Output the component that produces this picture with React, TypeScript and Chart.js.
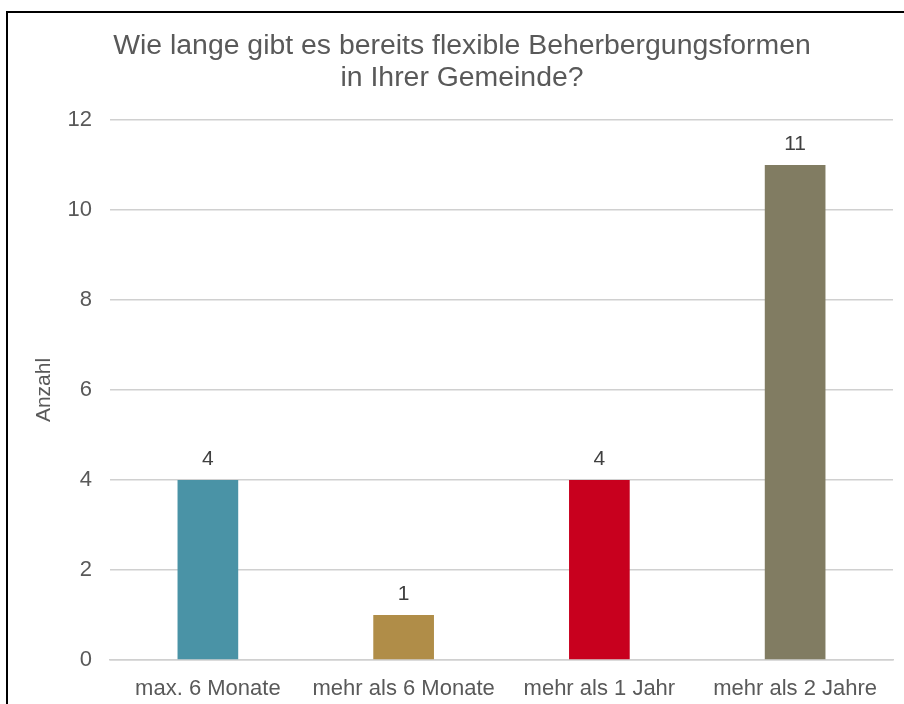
import React, { useEffect, useRef } from "react";
import { Chart, registerables } from "chart.js";

Chart.register(...registerables);

const titleLines = ["Wie lange gibt es bereits flexible Beherbergungsformen", "in Ihrer Gemeinde?"];
const categories = ["max. 6 Monate", "mehr als 6 Monate", "mehr als 1 Jahr", "mehr als 2 Jahre"];
const values = [4, 1, 4, 11];
const barColors = ["#4A93A6", "#B08D48", "#C8001E", "#817C62"];
const yAxisTitle = "Anzahl";

const TEXT = "#595959";
const FONT = "'Liberation Sans', Arial, sans-serif";

const framePlugin = {
  id: "frame",
  beforeDraw(chart: any) {
    const { ctx, width, height } = chart;
    ctx.save();
    ctx.fillStyle = "#ffffff";
    ctx.fillRect(0, 0, width, height);
    ctx.strokeStyle = "#000000";
    ctx.lineWidth = 2;
    ctx.strokeRect(7, 12, width - 14, height);
    ctx.restore();
  },
};

const titlePlugin = {
  id: "customTitle",
  afterDraw(chart: any) {
    const { ctx, width } = chart;
    ctx.save();
    ctx.fillStyle = TEXT;
    ctx.font = `28.4px ${FONT}`;
    ctx.textAlign = "center";
    ctx.textBaseline = "middle";
    titleLines.forEach((line, i) => {
      ctx.fillText(line, width / 2, 46 + i * 32);
    });
    ctx.restore();
  },
};

const labelPlugin = {
  id: "barLabels",
  afterDatasetsDraw(chart: any) {
    const { ctx } = chart;
    const meta = chart.getDatasetMeta(0);
    ctx.save();
    ctx.fillStyle = "#404040";
    ctx.font = `21px ${FONT}`;
    ctx.textAlign = "center";
    ctx.textBaseline = "alphabetic";
    meta.data.forEach((el: any, i: number) => {
      ctx.fillText(String(values[i]), el.x, el.y - 15);
    });
    ctx.restore();
  },
};

export default function App() {
  const ref = useRef<HTMLCanvasElement>(null);
  useEffect(() => {
    if (!ref.current) return;
    const chart = new Chart(ref.current, {
      type: "bar",
      data: {
        labels: categories,
        datasets: [
          {
            data: values,
            backgroundColor: barColors,
            borderWidth: 0,
            barPercentage: 0.31,
            categoryPercentage: 1,
          },
        ],
      },
      plugins: [framePlugin, labelPlugin, titlePlugin],
      options: {
        animation: false,
        responsive: true,
        maintainAspectRatio: false,
        layout: { padding: { left: 0, right: 31, top: 120, bottom: 0 } },
        plugins: {
          legend: { display: false },
          tooltip: { enabled: false },
          title: { display: false },
        },
        scales: {
          x: {
            grid: { display: false, drawTicks: false },
            border: { display: true, color: "#D0D0D0", width: 1.5 },
            ticks: { color: TEXT, font: { family: FONT, size: 22 }, padding: 16, maxRotation: 0, autoSkip: false },
            afterFit(scale: any) {
              scale.height = 60;
            },
          },
          y: {
            min: 0,
            max: 12,
            ticks: { stepSize: 2, color: TEXT, font: { family: FONT, size: 22 }, padding: 18 },
            grid: { color: "#D0D0D0", lineWidth: 1.5, drawTicks: false },
            border: { display: false },
            title: {
              display: true,
              text: yAxisTitle,
              color: TEXT,
              font: { family: FONT, size: 21 },
              padding: { top: 32, bottom: 0 },
            },
            afterFit(scale: any) {
              scale.width = 110;
            },
          },
        },
      },
    });
    return () => chart.destroy();
  }, []);
  return (
    <div style={{ position: "absolute", left: 0, top: 0, width: 904, height: 704, overflow: "hidden", background: "#fff" }}>
      <div style={{ position: "relative", width: 924, height: 720 }}>
        <canvas ref={ref} />
      </div>
    </div>
  );
}
